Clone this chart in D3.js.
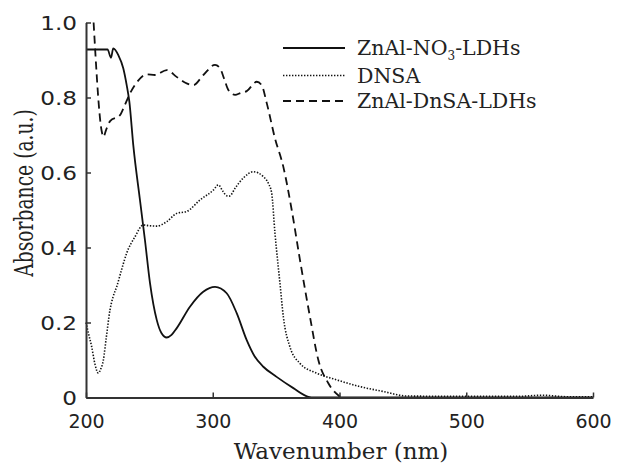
<!DOCTYPE html>
<html>
<head>
<meta charset="utf-8">
<script src="https://cdn.jsdelivr.net/npm/d3@7"></script>
<style>
  html, body { margin: 0; padding: 0; background: #fff; }
  svg { display: block; }
</style>
</head>
<body>
<svg id="chart" width="617" height="464"></svg>
<script>
// UV-Vis absorbance spectra: [wavelength (nm), absorbance (a.u.)]
const nitrateLDH = [
  [200,0.928],[217,0.928],[219.7,0.906],[221.5,0.931],[225.5,0.913],[229.4,0.878],
  [232.1,0.833],[234.2,0.789],[237.3,0.673],[242.6,0.526],[246.5,0.42],[250.5,0.305],
  [255.8,0.207],[259.5,0.172],[263.7,0.16],[267.5,0.167],[271.6,0.185],[282,0.242],
  [292.5,0.282],[301.8,0.295],[311,0.278],[318.9,0.225],[326.8,0.153],[333,0.11],
  [339.9,0.082],[350.4,0.055],[363.6,0.025],[375.4,0.002],[380,0],[600,0]
];
const dnsa = [
  [200,0.2],[202,0.17],[204.5,0.135],[207,0.09],[209.7,0.065],[211.5,0.075],[213.7,0.1],
  [216,0.16],[218.9,0.233],[221.5,0.27],[224.2,0.295],[228,0.34],[232.1,0.385],
  [238.7,0.429],[245.2,0.46],[250,0.458],[255.8,0.457],[263.7,0.469],[271.6,0.491],
  [279.4,0.496],[290,0.527],[300.4,0.553],[304.4,0.567],[308,0.55],[311,0.538],
  [313,0.537],[318,0.56],[324,0.585],[332,0.602],[339.9,0.589],[344,0.57],[346.5,0.545],
  [349.1,0.438],[353,0.305],[355.7,0.215],[360.9,0.135],[368.8,0.091],[382,0.065],
  [397.8,0.047],[416.2,0.029],[434.6,0.016],[453,0.004],[500,0.003],[540,0.003],
  [560,0.006],[580,0.002],[600,0.002]
];
const dnsaLDH = [
  [206,1.0],[212.4,0.71],[213.7,0.695],[216,0.715],[219,0.737],[226.8,0.753],[230,0.775],
  [234.7,0.811],[240,0.84],[247.9,0.862],[254.4,0.86],[263.7,0.873],[271.5,0.855],
  [278,0.84],[284.7,0.833],[292.6,0.86],[301.8,0.887],[305.7,0.878],[309,0.85],
  [312.3,0.82],[317.6,0.807],[322,0.812],[326.8,0.817],[334.7,0.842],[338.6,0.833],
  [342.6,0.785],[349.1,0.691],[355.7,0.615],[362.3,0.5],[368.8,0.367],[376.7,0.215],
  [383.3,0.1],[391.2,0.038],[400.4,0.002]
];

const xTicks = [200, 300, 400, 500, 600];
const yTicks = [0, 0.2, 0.4, 0.6, 0.8, 1.0];

const seriesNames = ["ZnAl-NO3-LDHs", "DNSA", "ZnAl-DnSA-LDHs"];
const seriesData = [nitrateLDH, dnsa, dnsaLDH];
const seriesDash = [null, "1.4,1.6", "8,5"];
const seriesWidth = [1.8, 1.6, 1.8];

const svg = d3.select("#chart");
const x = d3.scaleLinear().domain([200, 600]).range([86, 593]);
const y = d3.scaleLinear().domain([0, 1]).range([397.5, 22.5]);

const axisColor = "#333";
const textColor = "#222";
const tickFont = "DejaVu Sans, sans-serif";
const labelFont = "DejaVu Serif, serif";

// Curves
const line = d3.line().x(d => x(d[0])).y(d => y(d[1])).curve(d3.curveMonotoneX);
seriesData.forEach((data, i) => {
  svg.append("path")
    .datum(data)
    .attr("d", line)
    .attr("fill", "none")
    .attr("stroke", "#111")
    .attr("stroke-width", seriesWidth[i])
    .attr("stroke-dasharray", seriesDash[i])
    .attr("stroke-linejoin", "round");
});

// Axes with inward ticks
const xAxis = svg.append("g")
  .attr("transform", `translate(0,${y(0)})`)
  .call(d3.axisBottom(x).tickValues(xTicks).tickSizeInner(-5).tickSizeOuter(0).tickPadding(17.5)
    .tickFormat(d3.format("d")));
const yAxis = svg.append("g")
  .attr("transform", `translate(${x(200)},0)`)
  .call(d3.axisLeft(y).tickValues(yTicks).tickSizeInner(-5).tickSizeOuter(0)
    .tickFormat(d => d === 0 ? "0" : d3.format(".1f")(d)));

[xAxis, yAxis].forEach(g => {
  g.select(".domain").attr("stroke", axisColor).attr("stroke-width", 2);
  g.selectAll(".tick line").attr("stroke", axisColor).attr("stroke-width", 1.5);
  g.selectAll(".tick text")
    .attr("fill", textColor)
    .style("font-family", tickFont)
    .style("font-size", "19px");
});
// y tick labels are set a little wider than the x ones
yAxis.selectAll(".tick text")
  .attr("x", 0)
  .attr("dy", "0.35em")
  .attr("transform", "translate(-9,0) scale(1.22,1)");

// Axis titles
svg.append("text")
  .attr("x", 341).attr("y", 459)
  .attr("text-anchor", "middle")
  .attr("fill", textColor)
  .style("font-family", labelFont)
  .style("font-size", "23px")
  .text("Wavenumber (nm)");
svg.append("text")
  .attr("transform", "translate(33,193) rotate(-90) scale(0.72,1)")
  .attr("text-anchor", "middle")
  .attr("fill", textColor)
  .style("font-family", labelFont)
  .style("font-size", "26px")
  .text("Absorbance (a.u.)");

// Legend
const legendY = [48, 75.5, 101];
const legend = svg.append("g");
seriesNames.forEach((name, i) => {
  legend.append("line")
    .attr("x1", 283).attr("x2", 345)
    .attr("y1", legendY[i]).attr("y2", legendY[i])
    .attr("stroke", "#111")
    .attr("stroke-width", seriesWidth[i])
    .attr("stroke-dasharray", seriesDash[i]);
  const t = legend.append("text")
    .attr("x", 357).attr("y", legendY[i] + 7)
    .attr("fill", textColor)
    .style("font-family", labelFont)
    .style("font-size", "20.5px");
  if (name === "ZnAl-NO3-LDHs") {
    t.append("tspan").text("ZnAl-NO");
    t.append("tspan").attr("dy", 5).style("font-size", "12px").text("3");
    t.append("tspan").attr("dy", -5).text("-LDHs");
  } else {
    t.text(name);
  }
});
</script>
</body>
</html>
